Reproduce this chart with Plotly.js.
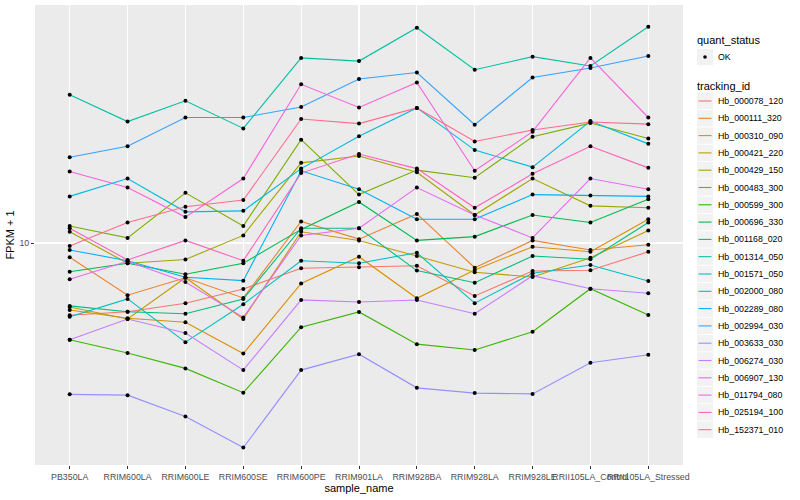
<!DOCTYPE html>
<html>
<head>
<meta charset="utf-8">
<script src="https://cdn.plot.ly/plotly-3.0.1.min.js"></script>
<style>html,body{margin:0;padding:0;background:#fff;}#chart{width:800px;height:500px;}</style>
</head>
<body>
<div id="chart"></div>
<script>
// categories (sample names)
const sampleNames = ["PB350LA","RRIM600LA","RRIM600LE","RRIM600SE","RRIM600PE","RRIM901LA","RRIM928BA","RRIM928LA","RRIM928LE","RRII105LA_Control","RRII105LA_Stressed"];

// tracking ids (legend order)
const trackingIds = ["Hb_000078_120","Hb_000111_320","Hb_000310_090","Hb_000421_220","Hb_000429_150","Hb_000483_300","Hb_000599_300","Hb_000696_330","Hb_001168_020","Hb_001314_050","Hb_001571_050","Hb_002000_080","Hb_002289_080","Hb_002994_030","Hb_003633_030","Hb_006274_030","Hb_006907_130","Hb_011794_080","Hb_025194_100","Hb_152371_010"];

// FPKM + 1 values per tracking id, one per sample
const Hb_000078_120 = [5.74, 5.90, 6.30, 7.03, 8.24, 8.30, 8.40, 6.66, 8.07, 8.11, 9.35];
const Hb_000111_320 = [8.96, 6.70, 7.66, 6.56, 11.8, 10.3, 12.5, 8.27, 10.2, 9.48, 9.87];
const Hb_000310_090 = [5.98, 5.61, 5.44, 4.28, 7.33, 9.00, 6.54, 8.13, 9.72, 9.35, 12.0];
const Hb_000421_220 = [6.12, 5.58, 7.66, 5.58, 10.9, 10.2, 9.05, 7.99, 7.70, 8.93, 11.0];
const Hb_000429_150 = [10.9, 8.56, 8.81, 10.6, 18.5, 19.5, 17.2, 12.4, 16.4, 13.3, 13.1];
const Hb_000483_300 = [11.4, 10.4, 14.7, 11.4, 22.1, 14.5, 17.5, 16.5, 22.6, 25.1, 22.3];
const Hb_000599_300 = [4.76, 4.30, 3.82, 3.17, 5.24, 5.89, 4.60, 4.40, 5.06, 7.04, 5.75];
const Hb_000696_330 = [8.02, 8.56, 7.87, 8.56, 11.1, 13.7, 10.2, 10.5, 12.4, 11.7, 14.0];
const Hb_001168_020 = [6.17, 5.90, 5.81, 6.51, 11.2, 11.2, 8.09, 7.37, 9.05, 8.83, 11.7];
const Hb_001314_050 = [31.2, 25.4, 29.8, 24.1, 41.4, 40.4, 52.2, 37.8, 41.8, 38.9, 52.6];
const Hb_001571_050 = [5.68, 6.51, 4.67, 6.25, 8.73, 8.56, 9.28, 6.30, 7.93, 8.45, 7.47];
const Hb_002000_080 = [14.3, 16.4, 12.7, 12.8, 17.7, 22.7, 28.2, 20.4, 17.9, 25.5, 21.4];
const Hb_002289_080 = [9.48, 8.73, 7.69, 7.49, 17.4, 15.1, 12.0, 12.0, 14.5, 14.4, 14.3];
const Hb_002994_030 = [19.3, 21.0, 26.2, 26.2, 28.4, 35.2, 37.0, 24.8, 35.6, 38.3, 42.0];
const Hb_003633_030 = [3.13, 3.11, 2.64, 2.08, 3.77, 4.26, 3.29, 3.16, 3.14, 3.99, 4.24];
const Hb_006274_030 = [4.76, 5.58, 5.01, 3.77, 6.46, 6.36, 6.46, 5.81, 7.78, 7.04, 6.80];
const Hb_006907_130 = [7.57, 8.69, 7.41, 5.65, 10.6, 11.2, 15.3, 12.4, 10.4, 16.4, 15.1];
const Hb_011794_080 = [17.3, 15.3, 12.2, 16.4, 33.8, 28.3, 34.3, 17.4, 23.5, 41.4, 26.2];
const Hb_025194_100 = [11.2, 8.78, 10.2, 8.73, 17.1, 19.8, 17.7, 13.1, 17.0, 21.0, 17.8];
const Hb_152371_010 = [9.77, 11.7, 13.2, 13.9, 25.9, 25.0, 28.2, 21.8, 23.8, 25.3, 24.9];

const seriesValues = [Hb_000078_120, Hb_000111_320, Hb_000310_090, Hb_000421_220, Hb_000429_150, Hb_000483_300, Hb_000599_300, Hb_000696_330, Hb_001168_020, Hb_001314_050, Hb_001571_050, Hb_002000_080, Hb_002289_080, Hb_002994_030, Hb_003633_030, Hb_006274_030, Hb_006907_130, Hb_011794_080, Hb_025194_100, Hb_152371_010];

// ggplot2 default hue palette for 20 levels
const lineColors = ["#F8766D","#EA8331","#D89000","#C09B00","#A3A500","#7CAE00","#39B600","#00BB4E","#00BF7D","#00C1A3","#00BFC4","#00BAE0","#00B0F6","#35A2FF","#9590FF","#C77CFF","#E76BF3","#FA62DB","#FF62BC","#FF6C91"];

const quantStatus = ["OK"];

const FONT = "Liberation Sans, Arial, Helvetica, sans-serif";

const traces = [];
trackingIds.forEach((id, i) => {
  traces.push({
    type: "scatter",
    mode: "lines",
    x: sampleNames,
    y: seriesValues[i],
    name: id,
    line: {color: lineColors[i], width: 1.1},
    showlegend: false,
    hoverinfo: "x+y+name"
  });
});

// points (quant_status = OK), drawn on top
const px = [], py = [];
seriesValues.forEach(arr => { arr.forEach((v, j) => { px.push(sampleNames[j]); py.push(v); }); });
traces.push({
  type: "scatter",
  mode: "markers",
  x: px,
  y: py,
  name: quantStatus[0],
  marker: {color: "#000000", size: 4, symbol: "circle"},
  showlegend: false
});

// ---- ggplot-style legend built from the arrays (paper coordinates) ----
const W = 800, H = 500, ML = 35, MR = 117, MT = 5, MB = 35;
const plotW = W - ML - MR, plotH = H - MT - MB;
const pxX = p => (p - ML) / plotW;
const pxY = p => (H - MB - p) / plotH;

const shapes = [];
const annotations = [];
const keyL = 697, keyR = 713, textX = 716;

function title(text, yPix) {
  annotations.push({xref: "paper", yref: "paper", x: pxX(695), y: pxY(yPix), xanchor: "left", yanchor: "middle",
    text: text, showarrow: false, font: {size: 11, color: "#000", family: FONT}});
}
function keyBox(yc) {
  shapes.push({type: "rect", xref: "paper", yref: "paper", x0: pxX(keyL), x1: pxX(keyR), y0: pxY(yc - 8.2), y1: pxY(yc + 8.2),
    fillcolor: "#F2F2F2", line: {width: 0}, layer: "above"});
}
function label(text, yc) {
  annotations.push({xref: "paper", yref: "paper", x: pxX(textX), y: pxY(yc), xanchor: "left", yanchor: "middle",
    text: text, showarrow: false, font: {size: 8.8, color: "#000", family: FONT}});
}

title("quant_status", 40);
quantStatus.forEach((q, k) => {
  const yc = 57 + k * 17.3;
  keyBox(yc);
  shapes.push({type: "circle", xref: "paper", yref: "paper", x0: pxX(703.2), x1: pxX(706.8), y0: pxY(yc - 1.8), y1: pxY(yc + 1.8),
    fillcolor: "#000", line: {width: 0}, layer: "above"});
  label(q, yc);
});

title("tracking_id", 86);
trackingIds.forEach((id, i) => {
  const yc = 101 + i * 17.3;
  keyBox(yc);
  shapes.push({type: "line", xref: "paper", yref: "paper", x0: pxX(698.5), x1: pxX(711.5), y0: pxY(yc), y1: pxY(yc),
    line: {color: lineColors[i], width: 1.1}, layer: "above"});
  label(id, yc);
});

const layout = {
  width: W,
  height: H,
  margin: {l: ML, r: MR, t: MT, b: MB},
  paper_bgcolor: "#FFFFFF",
  plot_bgcolor: "#EBEBEB",
  font: {family: FONT, size: 9, color: "#000"},
  showlegend: false,
  shapes: shapes,
  annotations: annotations,
  xaxis: {
    type: "category",
    range: [-0.6, 10.6],
    showgrid: true,
    gridcolor: "#FFFFFF",
    gridwidth: 1.1,
    zeroline: false,
    showline: false,
    ticks: "outside",
    ticklen: 3,
    tickwidth: 1,
    tickcolor: "#333333",
    tickangle: 0,
    tickfont: {size: 8.8, color: "#4D4D4D", family: FONT},
    title: {text: "sample_name", font: {size: 11, color: "#000", family: FONT}, standoff: 3},
    fixedrange: true
  },
  yaxis: {
    type: "log",
    range: [0.26, 1.7933],
    tickvals: [10],
    ticktext: ["10"],
    showgrid: true,
    gridcolor: "#FFFFFF",
    gridwidth: 1.1,
    zeroline: false,
    showline: false,
    ticks: "outside",
    ticklen: 3,
    tickwidth: 1,
    tickcolor: "#333333",
    tickfont: {size: 8.8, color: "#4D4D4D", family: FONT},
    title: {text: "FPKM + 1", font: {size: 11, color: "#000", family: FONT}, standoff: 2},
    fixedrange: true
  }
};

Plotly.newPlot("chart", traces, layout, {displayModeBar: false, staticPlot: true});
</script>
</body>
</html>
